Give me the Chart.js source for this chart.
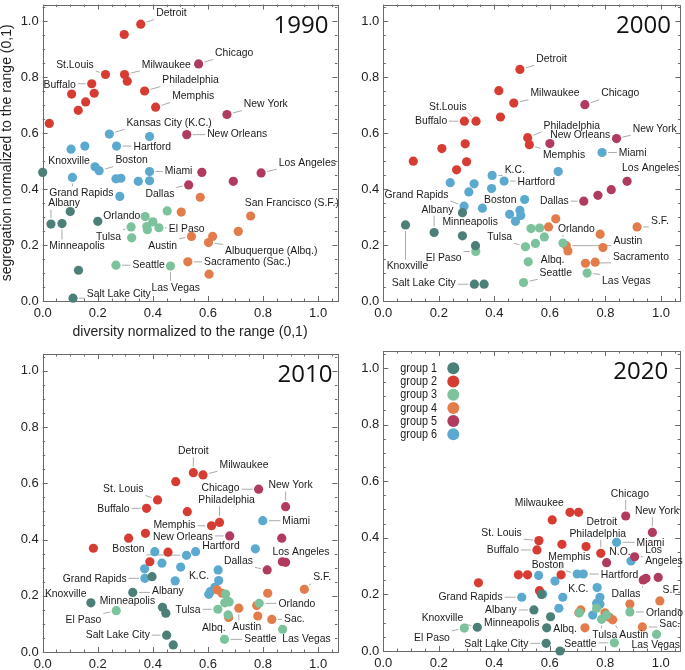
<!DOCTYPE html>
<html>
<head>
<meta charset="utf-8">
<script src="https://cdn.jsdelivr.net/npm/chart.js@4.4.0/dist/chart.umd.min.js"></script>
<style>
  body { margin: 0; background: #fff; width: 685px; height: 670px; position: relative; overflow: hidden; }
  canvas { position: absolute; }
</style>
</head>
<body>
<canvas id="c1990" width="342" height="345" style="left:0px;top:0px"></canvas>
<canvas id="c2000" width="343" height="335" style="left:342px;top:0px"></canvas>
<canvas id="c2010" width="342" height="335" style="left:0px;top:335px"></canvas>
<canvas id="c2020" width="343" height="335" style="left:342px;top:335px"></canvas>
<script>
var groupNames = ["group 1", "group 2", "group 3", "group 4", "group 5", "group 6"];
var groupColors = ["#4b7f77", "#d73c33", "#7cc29c", "#e27d4b", "#b13b5e", "#5ca9d0"];
var tickValues = [0, 0.2, 0.4, 0.6, 0.8, 1.0];
var xTitle = "diversity normalized to the range (0,1)";
var yTitle = "segregation normalized to the range (0,1)";

// [diversity, segregation, city]
var g1_1990 = [[0.00, 0.46, "Knoxville"], [0.10, 0.32, ""], [0.03, 0.275, "Albany"], [0.07, 0.277, "Minneapolis"],
  [0.20, 0.285, ""], [0.13, 0.11, ""], [0.11, 0.01, "Salt Lake City"]];
var g2_1990 = [[0.356, 0.99, "Detroit"], [0.296, 0.953, ""], [0.228, 0.81, "St.Louis"], [0.297, 0.81, "Milwaukee"],
  [0.307, 0.786, ""], [0.178, 0.777, "Buffalo"], [0.105, 0.74, ""], [0.187, 0.743, ""], [0.37, 0.751, "Philadelphia"],
  [0.156, 0.712, ""], [0.129, 0.682, ""], [0.41, 0.693, "Memphis"], [0.024, 0.635, ""]];
var g3_1990 = [[0.372, 0.302, ""], [0.40, 0.283, ""], [0.378, 0.266, "Orlando"], [0.38, 0.255, ""], [0.422, 0.262, "El Paso"],
  [0.452, 0.322, ""], [0.321, 0.265, "Tulsa"], [0.323, 0.226, ""], [0.266, 0.128, "Seattle"], [0.464, 0.125, "Las Vegas"]];
var g4_1990 = [[0.503, 0.318, ""], [0.572, 0.371, ""], [0.755, 0.304, "San Francisco (S.F.)"], [0.71, 0.249, ""],
  [0.54, 0.231, "Austin"], [0.617, 0.231, ""], [0.602, 0.209, "Albuquerque (Albq.)"], [0.527, 0.14, "Sacramento (Sac.)"], [0.604, 0.096, ""]];
var g5_1990 = [[0.566, 0.848, "Chicago"], [0.669, 0.667, "New York"], [0.523, 0.595, "New Orleans"], [0.793, 0.458, "Los Angeles"],
  [0.578, 0.46, ""], [0.692, 0.428, ""], [0.53, 0.415, "Dallas"]];
var g6_1990 = [[0.242, 0.597, "Kansas City (K.C.)"], [0.388, 0.588, ""], [0.268, 0.554, "Hartford"], [0.103, 0.543, ""],
  [0.153, 0.554, ""], [0.19, 0.48, ""], [0.205, 0.466, "Boston"], [0.388, 0.463, "Miami"], [0.388, 0.43, ""],
  [0.266, 0.437, ""], [0.284, 0.439, ""], [0.347, 0.428, ""], [0.108, 0.442, "Grand Rapids"], [0.28, 0.374, ""]];

var g1_2000 = [[0.08, 0.272, "Knoxville"], [0.183, 0.245, "Albany"], [0.285, 0.316, ""], [0.285, 0.233, "Minneapolis"],
  [0.332, 0.198, ""], [0.328, 0.06, "Salt Lake City"], [0.363, 0.06, ""]];
var g2_2000 = [[0.492, 0.828, "Detroit"], [0.416, 0.752, ""], [0.47, 0.708, "Milwaukee"], [0.422, 0.658, ""],
  [0.292, 0.643, "Buffalo"], [0.334, 0.643, "St.Louis"], [0.52, 0.584, "Philadelphia"], [0.526, 0.559, "Memphis"],
  [0.211, 0.545, ""], [0.295, 0.562, ""], [0.108, 0.50, ""], [0.30, 0.498, ""], [0.264, 0.469, ""]];
var g3_2000 = [[0.333, 0.177, "El Paso"], [0.512, 0.194, "Tulsa"], [0.548, 0.206, ""], [0.532, 0.259, ""], [0.563, 0.261, ""],
  [0.58, 0.229, ""], [0.647, 0.207, "Orlando"], [0.522, 0.14, ""], [0.505, 0.066, "Seattle"], [0.734, 0.10, "Las Vegas"]];
var g4_2000 = [[0.621, 0.294, ""], [0.595, 0.265, ""], [0.781, 0.239, ""], [0.914, 0.265, "S.F."], [0.791, 0.191, ""],
  [0.659, 0.198, "Austin"], [0.665, 0.179, "Albq."], [0.728, 0.135, "Sacramento"], [0.763, 0.139, ""]];
var g5_2000 = [[0.726, 0.702, "Chicago"], [0.84, 0.581, "New York"], [0.60, 0.563, "New Orleans"], [0.878, 0.428, "Los Angeles"],
  [0.821, 0.398, ""], [0.773, 0.378, ""], [0.722, 0.357, "Dallas"]];
var g6_2000 = [[0.788, 0.531, "Miami"], [0.63, 0.463, ""], [0.392, 0.449, "K.C."], [0.435, 0.429, "Hartford"], [0.241, 0.423, ""],
  [0.327, 0.419, ""], [0.39, 0.402, "Boston"], [0.308, 0.39, ""], [0.291, 0.339, "Grand Rapids"], [0.357, 0.332, ""],
  [0.509, 0.363, ""], [0.455, 0.31, ""], [0.492, 0.324, ""], [0.495, 0.306, ""], [0.476, 0.285, ""]];

var g1_2010 = [[0.397, 0.268, ""], [0.327, 0.212, "Albany"], [0.175, 0.175, "Knoxville"], [0.435, 0.159, "Minneapolis"],
  [0.447, 0.138, ""], [0.45, 0.06, "Salt Lake City"], [0.474, 0.025, ""]];
var g2_2010 = [[0.547, 0.638, "Detroit"], [0.582, 0.63, "Milwaukee"], [0.483, 0.606, ""], [0.417, 0.541, "St. Louis"],
  [0.377, 0.511, "Buffalo"], [0.525, 0.499, ""], [0.613, 0.449, "Memphis"], [0.642, 0.461, "Philadelphia"],
  [0.373, 0.422, ""], [0.312, 0.405, ""], [0.184, 0.369, ""], [0.455, 0.355, ""], [0.389, 0.321, ""]];
var g3_2010 = [[0.267, 0.147, "El Paso"], [0.636, 0.152, "Tulsa"], [0.673, 0.132, "Albq."], [0.66, 0.045, "Seattle"],
  [0.871, 0.081, "Las Vegas"], [0.786, 0.173, "Orlando"], [0.664, 0.206, ""], [0.67, 0.181, ""], [0.661, 0.175, ""], [0.677, 0.178, ""]];
var g4_2010 = [[0.95, 0.223, "S.F."], [0.817, 0.209, ""], [0.633, 0.221, ""], [0.651, 0.209, ""], [0.712, 0.156, "Austin"],
  [0.777, 0.165, ""], [0.781, 0.128, ""], [0.832, 0.116, "Sac."], [0.675, 0.123, ""]];
var g5_2010 = [[0.784, 0.579, "Chicago"], [0.882, 0.517, "New York"], [0.679, 0.413, "New Orleans"], [0.868, 0.405, "Los Angeles"],
  [0.87, 0.321, ""], [0.882, 0.319, ""], [0.815, 0.292, "Dallas"]];
var g6_2010 = [[0.799, 0.467, "Miami"], [0.772, 0.367, ""], [0.555, 0.357, "Hartford"], [0.522, 0.344, "Boston"], [0.407, 0.357, ""],
  [0.433, 0.316, ""], [0.501, 0.302, "K.C."], [0.37, 0.296, ""], [0.371, 0.262, "Grand Rapids"], [0.481, 0.253, ""],
  [0.637, 0.292, ""], [0.639, 0.254, ""], [0.625, 0.23, ""], [0.609, 0.215, ""], [0.603, 0.205, ""]];

var g1_2020 = [[0.543, 0.145, "Albany"], [0.603, 0.121, ""], [0.339, 0.084, "Knoxville"], [0.589, 0.082, "Minneapolis"],
  [0.587, 0.027, "Salt Lake City"], [0.637, 0.0, ""], [0.57, 0.2, ""]];
var g2_2020 = [[0.673, 0.49, "Milwaukee"], [0.704, 0.49, "Detroit"], [0.609, 0.463, ""], [0.561, 0.39, "St. Louis"],
  [0.554, 0.357, "Buffalo"], [0.644, 0.377, ""], [0.731, 0.369, ""], [0.784, 0.345, "Philadelphia"], [0.487, 0.269, ""],
  [0.52, 0.269, ""], [0.641, 0.269, "Memphis"], [0.343, 0.241, ""], [0.563, 0.213, ""]];
var g3_2020 = [[0.292, 0.081, "El Paso"], [0.889, 0.138, "Orlando"], [0.985, 0.059, "Las Vegas"], [0.833, 0.029, "Seattle"],
  [0.787, 0.112, "Tulsa"], [0.769, 0.151, ""], [0.805, 0.127, ""], [0.707, 0.135, ""]];
var g4_2020 = [[0.997, 0.177, "S.F."], [0.889, 0.166, ""], [0.934, 0.085, "Sac."], [0.727, 0.082, "Albq."], [0.712, 0.145, ""],
  [0.705, 0.135, ""], [0.799, 0.135, ""], [0.815, 0.119, ""], [0.827, 0.11, "Austin"]];
var g5_2020 = [[0.874, 0.477, "Chicago"], [0.97, 0.419, "New York"], [0.906, 0.333, "Los Angeles"], [0.805, 0.312, "N.O."],
  [0.991, 0.26, ""], [0.937, 0.251, "Dallas"], [0.947, 0.257, ""]];
var g6_2020 = [[0.841, 0.384, "Miami"], [0.893, 0.318, ""], [0.699, 0.272, "Boston"], [0.721, 0.272, "Hartford"], [0.56, 0.267, ""],
  [0.619, 0.247, ""], [0.499, 0.19, "Grand Rapids"], [0.647, 0.19, "K.C."], [0.575, 0.201, ""], [0.633, 0.151, ""],
  [0.771, 0.224, ""], [0.781, 0.19, ""], [0.769, 0.169, ""], [0.781, 0.165, ""], [0.755, 0.127, ""]];

// label placement in data units: [x, y, align (l = text starts at x, r = text ends at x, c = centred), optional text]
var lab1990 = {
  "Detroit": [0.412, 1.03, "l"], "Chicago": [0.626, 0.887, "l"], "St.Louis": [0.185, 0.846, "r"], "Milwaukee": [0.36, 0.846, "l"],
  "Buffalo": [0.12, 0.773, "r"], "Philadelphia": [0.434, 0.79, "l"], "Memphis": [0.47, 0.733, "l"], "New York": [0.73, 0.704, "l"],
  "Kansas City (K.C.)": [0.304, 0.637, "l"], "New Orleans": [0.597, 0.597, "l"], "Hartford": [0.33, 0.552, "l"],
  "Knoxville": [0.02, 0.502, "l"], "Boston": [0.264, 0.504, "l"], "Los Angeles": [0.857, 0.495, "l"], "Miami": [0.443, 0.467, "l"],
  "Grand Rapids": [0.024, 0.387, "l"], "Dallas": [0.478, 0.383, "r"], "Albany": [0.02, 0.35, "l"],
  "San Francisco (S.F.)": [0.734, 0.35, "l"], "Orlando": [0.22, 0.305, "l"], "El Paso": [0.458, 0.26, "l"], "Tulsa": [0.284, 0.231, "r"],
  "Minneapolis": [0.024, 0.197, "l"], "Austin": [0.488, 0.199, "r"], "Albuquerque (Albq.)": [0.662, 0.179, "l"],
  "Seattle": [0.326, 0.128, "l"], "Sacramento (Sac.)": [0.586, 0.139, "l"], "Las Vegas": [0.395, 0.049, "l"], "Salt Lake City": [0.16, 0.025, "l"]
};
var lab2000 = {
  "Detroit": [0.551, 0.866, "l"], "Milwaukee": [0.53, 0.743, "l"], "Chicago": [0.785, 0.743, "l"], "St.Louis": [0.165, 0.695, "l"],
  "Buffalo": [0.23, 0.643, "r"], "Philadelphia": [0.577, 0.628, "l"], "New Orleans": [0.601, 0.593, "l"], "New York": [0.898, 0.616, "l"],
  "Memphis": [0.575, 0.522, "l"], "Miami": [0.848, 0.531, "l"], "K.C.": [0.437, 0.471, "l"], "Los Angeles": [0.86, 0.478, "l"],
  "Hartford": [0.483, 0.428, "l"], "Grand Rapids": [0.004, 0.381, "l"], "Boston": [0.363, 0.363, "l"], "Dallas": [0.668, 0.359, "r"],
  "Albany": [0.138, 0.328, "l"], "Minneapolis": [0.213, 0.283, "l"], "S.F.": [0.964, 0.286, "l"], "Orlando": [0.629, 0.26, "l"],
  "Tulsa": [0.464, 0.23, "r"], "Austin": [0.829, 0.216, "l"], "El Paso": [0.282, 0.154, "r"], "Sacramento": [0.827, 0.16, "l"],
  "Albq.": [0.567, 0.147, "l"], "Knoxville": [0.012, 0.125, "l"], "Seattle": [0.563, 0.101, "l"], "Las Vegas": [0.788, 0.072, "l"],
  "Salt Lake City": [0.261, 0.066, "r"]
};
var lab2010 = {
  "Detroit": [0.547, 0.715, "c"], "Milwaukee": [0.642, 0.666, "l"], "St. Louis": [0.366, 0.58, "r"], "Chicago": [0.715, 0.583, "r"],
  "New York": [0.82, 0.594, "l"], "Philadelphia": [0.565, 0.541, "l"], "Buffalo": [0.315, 0.511, "r"], "Miami": [0.87, 0.466, "l"],
  "Memphis": [0.555, 0.451, "r"], "New Orleans": [0.618, 0.411, "r"], "Boston": [0.37, 0.369, "r"], "Hartford": [0.579, 0.377, "l"],
  "Los Angeles": [0.834, 0.357, "l"], "Dallas": [0.763, 0.324, "r"], "K.C.": [0.531, 0.27, "l"], "Grand Rapids": [0.305, 0.262, "r"],
  "S.F.": [0.982, 0.266, "l"], "Albany": [0.397, 0.218, "l"], "Knoxville": [0.008, 0.209, "l"], "Minneapolis": [0.207, 0.181, "l"],
  "Orlando": [0.856, 0.173, "l"], "Tulsa": [0.573, 0.152, "r"], "El Paso": [0.213, 0.114, "r"], "Sac.": [0.876, 0.12, "l"],
  "Austin": [0.741, 0.09, "c"], "Albq.": [0.664, 0.086, "r"], "Salt Lake City": [0.389, 0.06, "r"], "Seattle": [0.732, 0.046, "l"],
  "Las Vegas": [0.87, 0.046, "l"]
};
var lab2020 = {
  "Chicago": [0.889, 0.557, "c"], "Milwaukee": [0.651, 0.524, "r"], "New York": [0.907, 0.496, "l"], "Detroit": [0.733, 0.457, "l"],
  "St. Louis": [0.499, 0.418, "r"], "Philadelphia": [0.671, 0.416, "l"], "Miami": [0.913, 0.384, "l"], "Buffalo": [0.489, 0.357, "r"],
  "N.O.": [0.815, 0.351, "l"], "Los Angeles": [0.944, 0.337, "l", "Los\nAngeles"], "Memphis": [0.595, 0.333, "l"],
  "Boston": [0.535, 0.306, "l"], "Hartford": [0.784, 0.271, "l"], "K.C.": [0.667, 0.219, "l"], "Dallas": [0.823, 0.201, "l"],
  "S.F.": [1.007, 0.218, "l"], "Grand Rapids": [0.43, 0.19, "r"], "Albany": [0.481, 0.145, "r"], "Orlando": [0.947, 0.135, "l"],
  "Knoxville": [0.288, 0.118, "r"], "Minneapolis": [0.363, 0.1, "l"], "Sac.": [0.995, 0.098, "l"], "Albq.": [0.613, 0.078, "l"],
  "Tulsa": [0.753, 0.057, "l"], "Austin": [0.851, 0.057, "l"], "El Paso": [0.24, 0.048, "r"], "Salt Lake City": [0.523, 0.027, "r"],
  "Seattle": [0.769, 0.027, "r"], "Las Vegas": [0.895, 0.021, "l"]
};

var panels = [
  { id: "c1990", year: "1990", groups: [g1_1990, g2_1990, g3_1990, g4_1990, g5_1990, g6_1990], labels: lab1990 },
  { id: "c2000", year: "2000", groups: [g1_2000, g2_2000, g3_2000, g4_2000, g5_2000, g6_2000], labels: lab2000 },
  { id: "c2010", year: "2010", groups: [g1_2010, g2_2010, g3_2010, g4_2010, g5_2010, g6_2010], labels: lab2010 },
  { id: "c2020", year: "2020", groups: [g1_2020, g2_2020, g3_2020, g4_2020, g5_2020, g6_2020], labels: lab2020 }
];

// sizes of each panel box (canvas px)
var layouts = [
  { padTop: 3, padRight: 1.8, yw: 42.7, xh: 44, yearDx: 9, titles: true, legend: false },
  { padTop: 1, padRight: 3.9, yw: 41.3, xh: 34, yearDx: 9.5, titles: false, legend: false },
  { padTop: 19, padRight: 2.6, yw: 42.7, xh: 18, yearDx: 5, titles: false, legend: false },
  { padTop: 16, padRight: 4.9, yw: 41.3, xh: 19, yearDx: 12, titles: false, legend: true }
];

var X_MAX = 1.07, Y_MAX = 1.06;
var R = 4.6;
var LABEL_FONT = '11.8px "Liberation Sans", Arial, sans-serif';
var LABEL_SX = 0.88, LABEL_LH = 11;

function labelBox(ctx, xs, ys, lab, name) {
  var lines = (lab[3] || name).split("\n");
  ctx.font = LABEL_FONT;
  var w = 0;
  lines.forEach(function (t) { w = Math.max(w, ctx.measureText(t).width * LABEL_SX); });
  var lx = xs.getPixelForValue(lab[0]);
  var ly = ys.getPixelForValue(lab[1]);
  var x0 = lab[2] === "l" ? lx : (lab[2] === "r" ? lx - w : lx - w / 2);
  var h = lines.length * LABEL_LH;
  return { lines: lines, lx: lx, ly: ly, x0: x0, x1: x0 + w, y0: ly - h / 2, y1: ly + h / 2, align: lab[2] };
}

function makePlugin(panel, lay) {
  return {
    id: "panel" + panel.year,
    beforeDatasetsDraw: function (chart) {
      var ctx = chart.ctx, a = chart.chartArea, xs = chart.scales.x, ys = chart.scales.y;
      ctx.save();
      ctx.strokeStyle = "#6a6a6a";
      ctx.lineWidth = 1;
      ctx.strokeRect(Math.round(a.left) + 0.5, Math.round(a.top) + 0.5, Math.round(a.right - a.left), Math.round(a.bottom - a.top));
      ctx.beginPath();
      for (var k = 0; k <= 21; k++) {
        var v = k * 0.05;
        var len = k % 4 === 0 ? 5 : 2.5;
        var px = Math.round(xs.getPixelForValue(v)) + 0.5;
        if (px < a.right) {
          ctx.moveTo(px, a.bottom); ctx.lineTo(px, a.bottom - len);
          ctx.moveTo(px, a.top); ctx.lineTo(px, a.top + len);
        }
        var py = Math.round(ys.getPixelForValue(v)) + 0.5;
        if (py > a.top) {
          ctx.moveTo(a.left, py); ctx.lineTo(a.left + len, py);
          ctx.moveTo(a.right, py); ctx.lineTo(a.right - len, py);
        }
      }
      ctx.stroke();

      // leader lines from labels to their points
      ctx.strokeStyle = "#a0a0a0";
      ctx.lineWidth = 0.9;
      chart.data.datasets.forEach(function (ds, i) {
        var meta = chart.getDatasetMeta(i);
        ds.data.forEach(function (d, j) {
          var lab = panel.labels[d.name];
          if (!lab) return;
          var p = meta.data[j];
          var b = labelBox(ctx, xs, ys, lab, d.name);
          var qx = Math.min(Math.max(p.x, b.x0 - 2), b.x1 + 2);
          var qy = Math.min(Math.max(p.y, b.y0 - 1), b.y1 + 1);
          var dx = p.x - qx, dy = p.y - qy, L = Math.sqrt(dx * dx + dy * dy);
          if (L < R + 3) return;
          ctx.beginPath();
          ctx.moveTo(qx, qy);
          ctx.lineTo(p.x - dx / L * (R + 1.5), p.y - dy / L * (R + 1.5));
          ctx.stroke();
        });
      });
      ctx.restore();
    },
    afterDatasetsDraw: function (chart) {
      var ctx = chart.ctx, a = chart.chartArea, xs = chart.scales.x, ys = chart.scales.y;
      ctx.save();
      ctx.fillStyle = "#1a1a1a";
      ctx.textBaseline = "middle";
      chart.data.datasets.forEach(function (ds) {
        ds.data.forEach(function (d) {
          var lab = panel.labels[d.name];
          if (!lab) return;
          var b = labelBox(ctx, xs, ys, lab, d.name);
          b.lines.forEach(function (t, n) {
            ctx.save();
            ctx.translate(b.x0, b.y0 + LABEL_LH * (n + 0.5));
            ctx.scale(LABEL_SX, 1);
            ctx.textAlign = "left";
            ctx.fillText(t, 0, 0);
            ctx.restore();
          });
        });
      });

      // year
      ctx.font = '24px "Open Sans", sans-serif';
      ctx.fillStyle = "#111";
      ctx.textAlign = "right";
      ctx.textBaseline = "alphabetic";
      ctx.fillText(panel.year, a.right - lay.yearDx, a.top + 28);

      if (lay.legend) {
        ctx.font = '13.5px "Liberation Sans", Arial, sans-serif';
        ctx.textBaseline = "middle";
        groupNames.forEach(function (g, i) {
          var y = a.top + 17.3 + i * 13.2;
          ctx.save();
          ctx.translate(a.left + 17, y);
          ctx.scale(0.8, 1);
          ctx.textAlign = "left";
          ctx.fillStyle = "#1a1a1a";
          ctx.fillText(g, 0, 0);
          ctx.restore();
          ctx.beginPath();
          ctx.fillStyle = groupColors[i];
          ctx.arc(a.left + 70, y, 6, 0, Math.PI * 2);
          ctx.fill();
        });
      }
      ctx.restore();
    }
  };
}

function axis(isX, lay) {
  var title = lay.titles ? (isX ? xTitle : yTitle) : "";
  return {
    type: "linear",
    min: 0,
    max: isX ? X_MAX : Y_MAX,
    afterBuildTicks: function (s) { s.ticks = tickValues.map(function (v) { return { value: v }; }); },
    afterFit: function (s) {
      if (isX) { s.height = lay.xh; } else { s.width = lay.yw; }
      s.paddingTop = 0; s.paddingBottom = 0; s.paddingLeft = 0; s.paddingRight = 0;
    },
    grid: { display: false, drawTicks: false },
    border: { display: false },
    ticks: {
      font: { family: "Liberation Sans", size: 13 },
      color: "#222",
      padding: isX ? 5 : 4,
      maxRotation: 0,
      autoSkip: false,
      callback: function (v) { return Number(v).toFixed(1); }
    },
    title: {
      display: !!title,
      text: title,
      color: "#222",
      font: { family: "Liberation Sans", size: 14, lineHeight: 1 },
      padding: isX ? { top: 0, bottom: 6 } : { top: 0, bottom: 0 }
    }
  };
}

panels.forEach(function (panel, k) {
  var lay = layouts[k];
  var datasets = panel.groups.map(function (g, i) {
    return {
      label: groupNames[i],
      data: g.map(function (p) { return { x: p[0], y: p[1], name: p[2] }; }),
      backgroundColor: groupColors[i],
      borderWidth: 0,
      pointRadius: R,
      pointHoverRadius: R,
      clip: false
    };
  });
  new Chart(document.getElementById(panel.id), {
    type: "scatter",
    data: { datasets: datasets },
    options: {
      responsive: false,
      animation: false,
      devicePixelRatio: 1,
      events: [],
      layout: { padding: { top: lay.padTop, right: lay.padRight, left: 0, bottom: 0 } },
      plugins: { legend: { display: false }, tooltip: { enabled: false } },
      scales: { x: axis(true, lay), y: axis(false, lay) }
    },
    plugins: [makePlugin(panel, lay)]
  });
});
</script>
</body>
</html>
